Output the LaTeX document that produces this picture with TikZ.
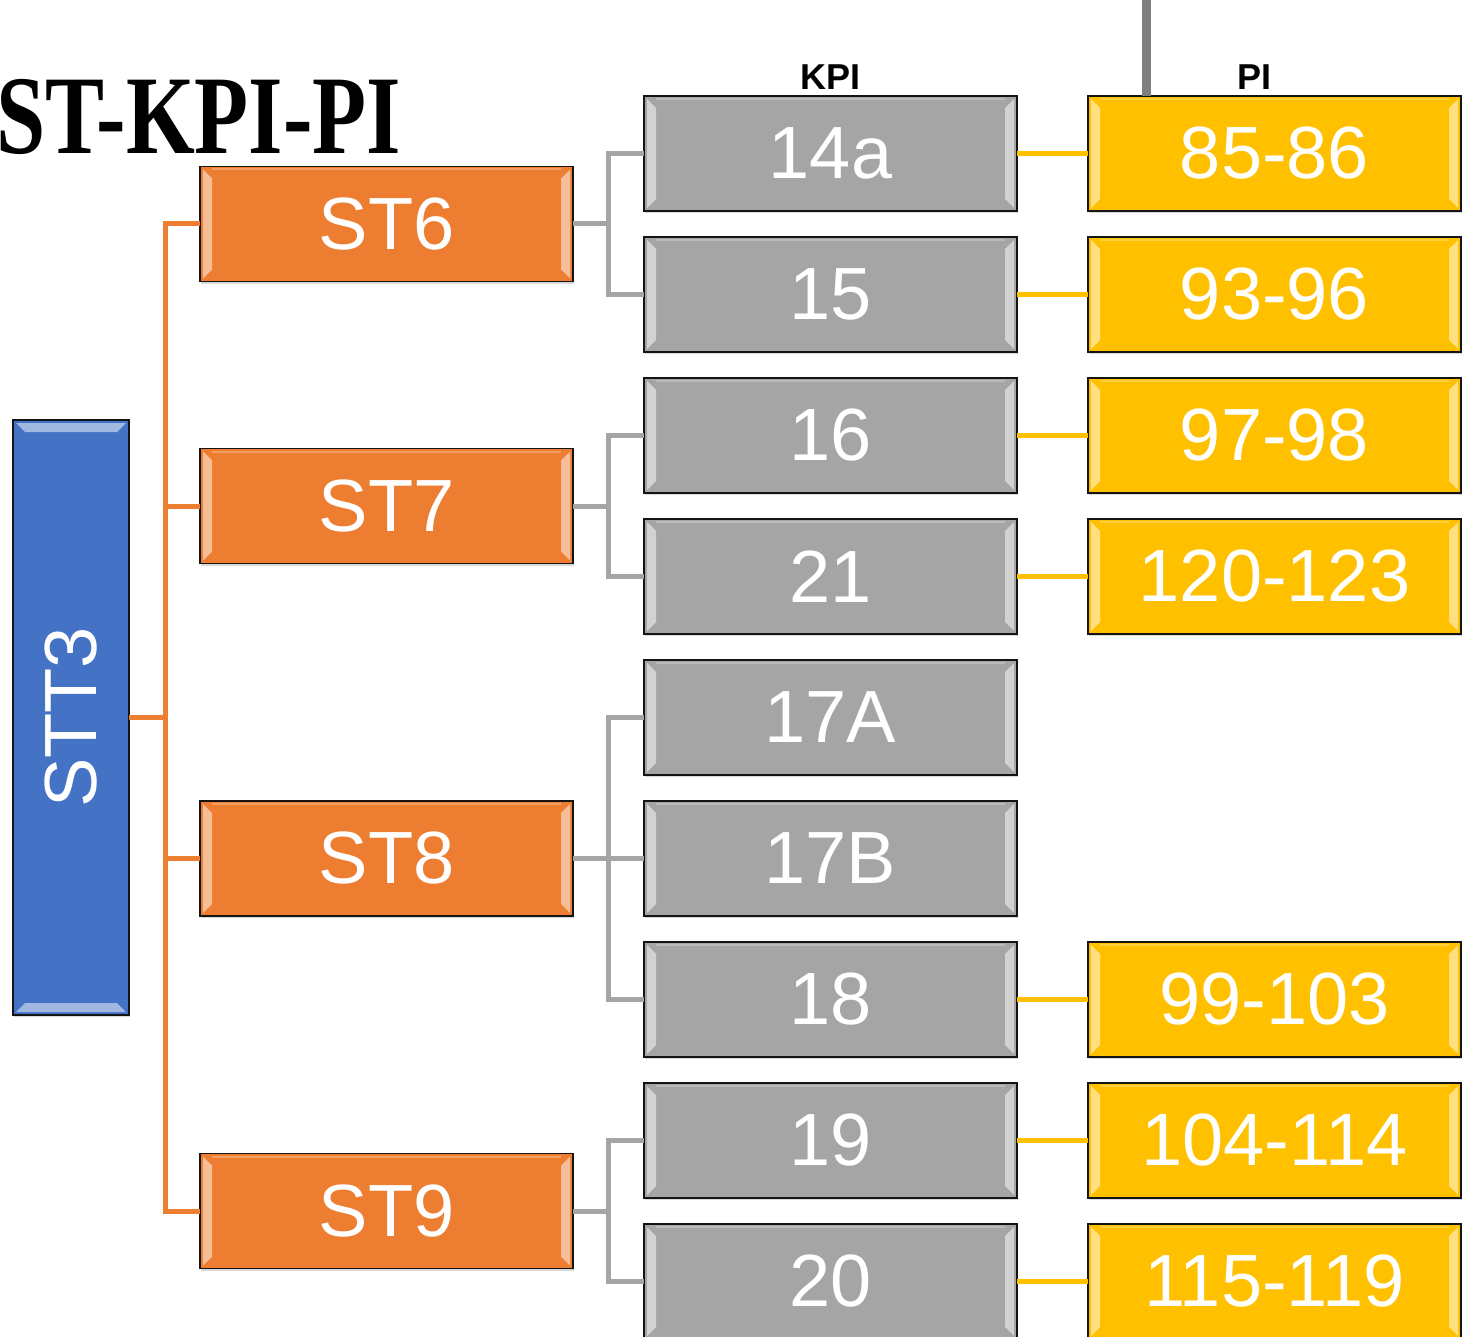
\documentclass[tikz,border=0pt]{standalone}
\usepackage{fontspec}
\setmainfont{Liberation Sans}
\newfontfamily\titlefont[FakeStretch=0.79]{Liberation Serif}
\usetikzlibrary{positioning,calc,shadows}
\definecolor{sttblue}{RGB}{68,114,196}
\definecolor{storange}{RGB}{237,125,49}
\definecolor{kpigray}{RGB}{165,165,165}
\definecolor{piyellow}{RGB}{255,192,0}
\definecolor{feedgray}{RGB}{127,127,127}
\definecolor{lineblack}{RGB}{20,20,20}

\begin{document}
\begin{tikzpicture}[
  x=0.5pt, y=-0.5pt,
  node distance=13pt and 35.5pt,
  tile/.style={rectangle, draw=lineblack, line width=0.8pt, inner sep=0pt, outer sep=0pt, minimum width=186.5pt, minimum height=57.5pt, text=white, font=\fontsize{37}{40}\selectfont, drop shadow={shadow xshift=0.6pt, shadow yshift=-1.2pt, opacity=0.3}},
  hbevel/.style={path picture={
    \fill[white, opacity=0.5]
      ([shift={(1.5pt,-1.5pt)}]path picture bounding box.north west) -- ([shift={(6pt,-6pt)}]path picture bounding box.north west)
      -- ([shift={(6pt,6pt)}]path picture bounding box.south west) -- ([shift={(1.5pt,1.5pt)}]path picture bounding box.south west) -- cycle
      ([shift={(-1.5pt,-1.5pt)}]path picture bounding box.north east) -- ([shift={(-6pt,-6pt)}]path picture bounding box.north east)
      -- ([shift={(-6pt,6pt)}]path picture bounding box.south east) -- ([shift={(-1.5pt,1.5pt)}]path picture bounding box.south east) -- cycle;
    \draw[white, opacity=0.25, line width=1pt]
      ([shift={(6pt,-1.5pt)}]path picture bounding box.north west) -- ([shift={(-6pt,-1.5pt)}]path picture bounding box.north east);
  }},
  vbevel/.style={path picture={
    \fill[white, opacity=0.5]
      ([shift={(1.5pt,-1.5pt)}]path picture bounding box.north west) -- ([shift={(-1.5pt,-1.5pt)}]path picture bounding box.north east)
      -- ([shift={(-6pt,-6pt)}]path picture bounding box.north east) -- ([shift={(6pt,-6pt)}]path picture bounding box.north west) -- cycle
      ([shift={(1.5pt,1.5pt)}]path picture bounding box.south west) -- ([shift={(-1.5pt,1.5pt)}]path picture bounding box.south east)
      -- ([shift={(-6pt,6pt)}]path picture bounding box.south east) -- ([shift={(6pt,6pt)}]path picture bounding box.south west) -- cycle;
  }},
  kpi/.style={tile, fill=kpigray, hbevel},
  pi/.style={tile, fill=piyellow, hbevel},
  st/.style={tile, fill=storange, hbevel},
  head/.style={font=\bfseries\fontsize{18}{20}\selectfont, inner sep=0pt},
  oline/.style={draw=storange, line width=2.5pt},
  gline/.style={draw=kpigray, line width=2.5pt},
  yline/.style={draw=piyellow, line width=2.5pt}
]
\useasboundingbox (0,0) rectangle (1468,1337);

% KPI column
\node[kpi] (k14a) at (830.5,153.5) {14a};
\node[kpi, below=of k14a] (k15) {15};
\node[kpi, below=of k15] (k16) {16};
\node[kpi, below=of k16] (k21) {21};
\node[kpi, below=of k21] (k17a) {17A};
\node[kpi, below=of k17a] (k17b) {17B};
\node[kpi, below=of k17b] (k18) {18};
\node[kpi, below=of k18] (k19) {19};
\node[kpi, below=of k19] (k20) {20};

% PI column
\node[pi, right=of k14a] (p85) {85-86};
\node[pi, right=of k15] (p93) {93-96};
\node[pi, right=of k16] (p97) {97-98};
\node[pi, right=of k21] (p120) {120-123};
\node[pi, right=of k18] (p99) {99-103};
\node[pi, right=of k19] (p104) {104-114};
\node[pi, right=of k20] (p115) {115-119};

% ST column
\coordinate (m6) at ($(k14a.west)!0.5!(k15.west)$);
\coordinate (m7) at ($(k16.west)!0.5!(k21.west)$);
\coordinate (m9) at ($(k19.west)!0.5!(k20.west)$);
\node[st, left=of m6] (st6) {ST6};
\node[st, left=of m7] (st7) {ST7};
\node[st, left=of k17b] (st8) {ST8};
\node[st, left=of m9] (st9) {ST9};

\coordinate (mid) at (k17a.west -| st6.west);
\node[tile, fill=sttblue, vbevel, minimum width=58pt, minimum height=297.5pt, left=of mid] (stt3) {\rotatebox{90}{STT3}};

% headings
\node[head, above=3pt of k14a] (kpihead) {KPI};
\node[head, above=3pt of p85, xshift=-10pt] (pihead) {PI};
\node[font=\titlefont\bfseries\fontsize{56}{60}\selectfont, anchor=base west, inner sep=0pt] (title) at (-4,154) {ST-KPI-PI};

% STT3 -> ST
\coordinate (obus) at (165,717.5);
\draw[oline] (stt3.east) -- (obus);
\draw[oline] (st6.west) -- (st6.west -| obus) -- (st9.west -| obus) -- (st9.west);
\draw[oline] (st7.west) -- (st7.west -| obus);
\draw[oline] (st8.west) -- (st8.west -| obus);

% ST -> KPI
\draw[gline] (st6.east) -- ++(35,0) coordinate (g6);
\draw[gline] (k14a.west) -| (g6) |- (k15.west);
\draw[gline] (st7.east) -- ++(35,0) coordinate (g7);
\draw[gline] (k16.west) -| (g7) |- (k21.west);
\draw[gline] (st8.east) -- (k17b.west);
\path (st8.east) -- ++(35,0) coordinate (g8);
\draw[gline] (k17a.west) -| (g8) |- (k18.west);
\draw[gline] (st9.east) -- ++(35,0) coordinate (g9);
\draw[gline] (k19.west) -| (g9) |- (k20.west);

% KPI -> PI
\draw[yline] (k14a) -- (p85);
\draw[yline] (k15) -- (p93);
\draw[yline] (k16) -- (p97);
\draw[yline] (k21) -- (p120);
\draw[yline] (k18) -- (p99);
\draw[yline] (k19) -- (p104);
\draw[yline] (k20) -- (p115);

% feed from above
\coordinate (feed) at (1146,0);
\draw[draw=feedgray, line width=4.5pt] (feed) -- (feed |- p85.north);
\end{tikzpicture}
\end{document}
